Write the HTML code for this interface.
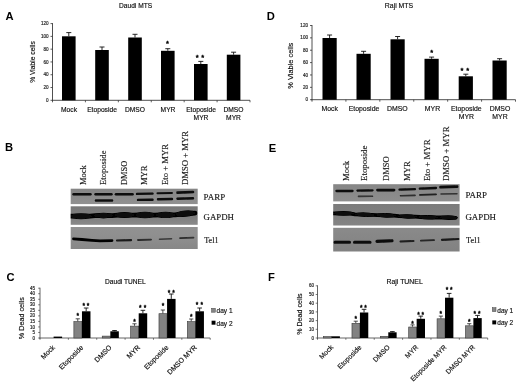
<!DOCTYPE html>
<html lang="en">
<head>
<meta charset="utf-8">
<title>Figure</title>
<style>
html,body{margin:0;padding:0;background:#fff;}
svg{display:block;}
text.s{font-family:"Liberation Sans", Arial, sans-serif;}
text.r{font-family:"Liberation Serif", "Times New Roman", serif;}
</style>
</head>
<body>
<svg width="520" height="385" viewBox="0 0 520 385">
<defs>
<filter id="bl" x="-5%" y="-5%" width="110%" height="110%"><feGaussianBlur stdDeviation="0.75"/></filter>
</defs>
<rect x="0" y="0" width="520" height="385" fill="#ffffff"/>
<text class="s" x="5.6" y="20" font-size="11.2" font-weight="bold" fill="#000">A</text>
<text class="s" x="135.6" y="7.9" font-size="6.6" text-anchor="middle" fill="#111" stroke="#111" stroke-width="0.16">Daudi MTS</text>
<line x1="52.5" y1="23.1" x2="52.5" y2="100.8" stroke="#3c3c3c" stroke-width="0.9"/>
<line x1="52.0" y1="100.3" x2="250" y2="100.3" stroke="#3c3c3c" stroke-width="0.9"/>
<line x1="50.5" y1="100.3" x2="52.5" y2="100.3" stroke="#333" stroke-width="0.8"/>
<text class="s" x="48.6" y="101.9" font-size="4.6" text-anchor="end" fill="#222" stroke="#222" stroke-width="0.16">0</text>
<line x1="50.5" y1="87.51666666666667" x2="52.5" y2="87.51666666666667" stroke="#333" stroke-width="0.8"/>
<text class="s" x="48.6" y="89.12" font-size="4.6" text-anchor="end" fill="#222" stroke="#222" stroke-width="0.16">20</text>
<line x1="50.5" y1="74.73333333333333" x2="52.5" y2="74.73333333333333" stroke="#333" stroke-width="0.8"/>
<text class="s" x="48.6" y="76.33" font-size="4.6" text-anchor="end" fill="#222" stroke="#222" stroke-width="0.16">40</text>
<line x1="50.5" y1="61.95" x2="52.5" y2="61.95" stroke="#333" stroke-width="0.8"/>
<text class="s" x="48.6" y="63.55" font-size="4.6" text-anchor="end" fill="#222" stroke="#222" stroke-width="0.16">60</text>
<line x1="50.5" y1="49.16666666666667" x2="52.5" y2="49.16666666666667" stroke="#333" stroke-width="0.8"/>
<text class="s" x="48.6" y="50.77" font-size="4.6" text-anchor="end" fill="#222" stroke="#222" stroke-width="0.16">80</text>
<line x1="50.5" y1="36.38333333333334" x2="52.5" y2="36.38333333333334" stroke="#333" stroke-width="0.8"/>
<text class="s" x="48.6" y="37.98" font-size="4.6" text-anchor="end" fill="#222" stroke="#222" stroke-width="0.16">100</text>
<line x1="50.5" y1="23.60000000000001" x2="52.5" y2="23.60000000000001" stroke="#333" stroke-width="0.8"/>
<text class="s" x="48.6" y="25.2" font-size="4.6" text-anchor="end" fill="#222" stroke="#222" stroke-width="0.16">120</text>
<line x1="52.5" y1="100.3" x2="52.5" y2="102.3" stroke="#333" stroke-width="0.8"/>
<line x1="85.41666666666666" y1="100.3" x2="85.41666666666666" y2="102.3" stroke="#333" stroke-width="0.8"/>
<line x1="118.33333333333333" y1="100.3" x2="118.33333333333333" y2="102.3" stroke="#333" stroke-width="0.8"/>
<line x1="151.25" y1="100.3" x2="151.25" y2="102.3" stroke="#333" stroke-width="0.8"/>
<line x1="184.16666666666666" y1="100.3" x2="184.16666666666666" y2="102.3" stroke="#333" stroke-width="0.8"/>
<line x1="217.08333333333331" y1="100.3" x2="217.08333333333331" y2="102.3" stroke="#333" stroke-width="0.8"/>
<line x1="250.0" y1="100.3" x2="250.0" y2="102.3" stroke="#333" stroke-width="0.8"/>
<rect x="62.00" y="36.30" width="13.60" height="64.00" fill="#000"/>
<line x1="68.8" y1="36.3" x2="68.8" y2="32.6" stroke="#111" stroke-width="0.9"/>
<line x1="66.3" y1="32.6" x2="71.3" y2="32.6" stroke="#111" stroke-width="0.9"/>
<rect x="95.20" y="50.00" width="13.60" height="50.30" fill="#000"/>
<line x1="102.0" y1="50" x2="102.0" y2="47" stroke="#111" stroke-width="0.9"/>
<line x1="99.5" y1="47" x2="104.5" y2="47" stroke="#111" stroke-width="0.9"/>
<rect x="128.20" y="37.50" width="13.60" height="62.80" fill="#000"/>
<line x1="135.0" y1="37.5" x2="135.0" y2="34.3" stroke="#111" stroke-width="0.9"/>
<line x1="132.5" y1="34.3" x2="137.5" y2="34.3" stroke="#111" stroke-width="0.9"/>
<rect x="161.00" y="50.80" width="13.60" height="49.50" fill="#000"/>
<line x1="167.8" y1="50.8" x2="167.8" y2="48.7" stroke="#111" stroke-width="0.9"/>
<line x1="165.3" y1="48.7" x2="170.3" y2="48.7" stroke="#111" stroke-width="0.9"/>
<rect x="194.00" y="64.00" width="13.60" height="36.30" fill="#000"/>
<line x1="200.8" y1="64" x2="200.8" y2="61.4" stroke="#111" stroke-width="0.9"/>
<line x1="198.3" y1="61.4" x2="203.3" y2="61.4" stroke="#111" stroke-width="0.9"/>
<rect x="226.80" y="54.70" width="13.60" height="45.60" fill="#000"/>
<line x1="233.60000000000002" y1="54.7" x2="233.60000000000002" y2="52.2" stroke="#111" stroke-width="0.9"/>
<line x1="231.10000000000002" y1="52.2" x2="236.10000000000002" y2="52.2" stroke="#111" stroke-width="0.9"/>
<text class="s" x="69" y="111.7" font-size="6.7" text-anchor="middle" fill="#111" stroke="#111" stroke-width="0.16">Mock</text>
<text class="s" x="102" y="111.7" font-size="6.7" text-anchor="middle" fill="#111" stroke="#111" stroke-width="0.16">Etoposide</text>
<text class="s" x="135" y="111.7" font-size="6.7" text-anchor="middle" fill="#111" stroke="#111" stroke-width="0.16">DMSO</text>
<text class="s" x="168" y="111.7" font-size="6.7" text-anchor="middle" fill="#111" stroke="#111" stroke-width="0.16">MYR</text>
<text class="s" x="201" y="111.7" font-size="6.7" text-anchor="middle" fill="#111" stroke="#111" stroke-width="0.16">Etoposide</text>
<text class="s" x="201" y="119.5" font-size="6.7" text-anchor="middle" fill="#111" stroke="#111" stroke-width="0.16">MYR</text>
<text class="s" x="233.5" y="111.7" font-size="6.7" text-anchor="middle" fill="#111" stroke="#111" stroke-width="0.16">DMSO</text>
<text class="s" x="233.5" y="119.5" font-size="6.7" text-anchor="middle" fill="#111" stroke="#111" stroke-width="0.16">MYR</text>
<text class="s" x="34.6" y="62" font-size="6.7" text-anchor="middle" transform="rotate(-90 34.6 62)" fill="#111" stroke="#111" stroke-width="0.16">% Viable cells</text>
<text class="s" x="167.5" y="45.88" font-size="7.5" text-anchor="middle" fill="#0a0a0a" stroke="#0a0a0a" stroke-width="0.42">*</text>
<text class="s" x="197.2" y="59.88" font-size="7.5" text-anchor="middle" fill="#0a0a0a" stroke="#0a0a0a" stroke-width="0.42">*</text>
<text class="s" x="202.6" y="59.88" font-size="7.5" text-anchor="middle" fill="#0a0a0a" stroke="#0a0a0a" stroke-width="0.42">*</text>
<text class="s" x="266.7" y="20" font-size="11.2" font-weight="bold" fill="#000">D</text>
<text class="s" x="399" y="7.7" font-size="6.9" text-anchor="middle" fill="#111" stroke="#111" stroke-width="0.16">Raji MTS</text>
<line x1="312" y1="25.0" x2="312" y2="100.2" stroke="#3c3c3c" stroke-width="0.9"/>
<line x1="311.5" y1="99.7" x2="515.5" y2="99.7" stroke="#3c3c3c" stroke-width="0.9"/>
<line x1="310" y1="99.7" x2="312" y2="99.7" stroke="#333" stroke-width="0.8"/>
<text class="s" x="308" y="101.3" font-size="4.6" text-anchor="end" fill="#222" stroke="#222" stroke-width="0.16">0</text>
<line x1="310" y1="87.33333333333334" x2="312" y2="87.33333333333334" stroke="#333" stroke-width="0.8"/>
<text class="s" x="308" y="88.93" font-size="4.6" text-anchor="end" fill="#222" stroke="#222" stroke-width="0.16">20</text>
<line x1="310" y1="74.96666666666667" x2="312" y2="74.96666666666667" stroke="#333" stroke-width="0.8"/>
<text class="s" x="308" y="76.57" font-size="4.6" text-anchor="end" fill="#222" stroke="#222" stroke-width="0.16">40</text>
<line x1="310" y1="62.6" x2="312" y2="62.6" stroke="#333" stroke-width="0.8"/>
<text class="s" x="308" y="64.2" font-size="4.6" text-anchor="end" fill="#222" stroke="#222" stroke-width="0.16">60</text>
<line x1="310" y1="50.233333333333334" x2="312" y2="50.233333333333334" stroke="#333" stroke-width="0.8"/>
<text class="s" x="308" y="51.83" font-size="4.6" text-anchor="end" fill="#222" stroke="#222" stroke-width="0.16">80</text>
<line x1="310" y1="37.86666666666667" x2="312" y2="37.86666666666667" stroke="#333" stroke-width="0.8"/>
<text class="s" x="308" y="39.47" font-size="4.6" text-anchor="end" fill="#222" stroke="#222" stroke-width="0.16">100</text>
<line x1="310" y1="25.5" x2="312" y2="25.5" stroke="#333" stroke-width="0.8"/>
<text class="s" x="308" y="27.1" font-size="4.6" text-anchor="end" fill="#222" stroke="#222" stroke-width="0.16">120</text>
<line x1="312.0" y1="99.7" x2="312.0" y2="101.7" stroke="#333" stroke-width="0.8"/>
<line x1="345.9166666666667" y1="99.7" x2="345.9166666666667" y2="101.7" stroke="#333" stroke-width="0.8"/>
<line x1="379.8333333333333" y1="99.7" x2="379.8333333333333" y2="101.7" stroke="#333" stroke-width="0.8"/>
<line x1="413.75" y1="99.7" x2="413.75" y2="101.7" stroke="#333" stroke-width="0.8"/>
<line x1="447.66666666666663" y1="99.7" x2="447.66666666666663" y2="101.7" stroke="#333" stroke-width="0.8"/>
<line x1="481.5833333333333" y1="99.7" x2="481.5833333333333" y2="101.7" stroke="#333" stroke-width="0.8"/>
<line x1="515.5" y1="99.7" x2="515.5" y2="101.7" stroke="#333" stroke-width="0.8"/>
<rect x="322.50" y="38.00" width="14.20" height="61.70" fill="#000"/>
<line x1="329.6" y1="38" x2="329.6" y2="35" stroke="#111" stroke-width="0.9"/>
<line x1="327.1" y1="35" x2="332.1" y2="35" stroke="#111" stroke-width="0.9"/>
<rect x="356.50" y="53.80" width="14.20" height="45.90" fill="#000"/>
<line x1="363.6" y1="53.8" x2="363.6" y2="51.3" stroke="#111" stroke-width="0.9"/>
<line x1="361.1" y1="51.3" x2="366.1" y2="51.3" stroke="#111" stroke-width="0.9"/>
<rect x="390.50" y="39.30" width="14.20" height="60.40" fill="#000"/>
<line x1="397.6" y1="39.3" x2="397.6" y2="36.5" stroke="#111" stroke-width="0.9"/>
<line x1="395.1" y1="36.5" x2="400.1" y2="36.5" stroke="#111" stroke-width="0.9"/>
<rect x="424.50" y="58.80" width="14.20" height="40.90" fill="#000"/>
<line x1="431.6" y1="58.8" x2="431.6" y2="57.1" stroke="#111" stroke-width="0.9"/>
<line x1="429.1" y1="57.1" x2="434.1" y2="57.1" stroke="#111" stroke-width="0.9"/>
<rect x="458.70" y="76.30" width="14.20" height="23.40" fill="#000"/>
<line x1="465.8" y1="76.3" x2="465.8" y2="74.2" stroke="#111" stroke-width="0.9"/>
<line x1="463.3" y1="74.2" x2="468.3" y2="74.2" stroke="#111" stroke-width="0.9"/>
<rect x="492.50" y="60.50" width="14.20" height="39.20" fill="#000"/>
<line x1="499.6" y1="60.5" x2="499.6" y2="58.7" stroke="#111" stroke-width="0.9"/>
<line x1="497.1" y1="58.7" x2="502.1" y2="58.7" stroke="#111" stroke-width="0.9"/>
<text class="s" x="329.7" y="111.10000000000001" font-size="6.9" text-anchor="middle" fill="#111" stroke="#111" stroke-width="0.16">Mock</text>
<text class="s" x="364" y="111.10000000000001" font-size="6.9" text-anchor="middle" fill="#111" stroke="#111" stroke-width="0.16">Etoposide</text>
<text class="s" x="397.3" y="111.10000000000001" font-size="6.9" text-anchor="middle" fill="#111" stroke="#111" stroke-width="0.16">DMSO</text>
<text class="s" x="432.5" y="111.10000000000001" font-size="6.9" text-anchor="middle" fill="#111" stroke="#111" stroke-width="0.16">MYR</text>
<text class="s" x="466.3" y="111.10000000000001" font-size="6.9" text-anchor="middle" fill="#111" stroke="#111" stroke-width="0.16">Etoposide</text>
<text class="s" x="466.3" y="118.9" font-size="6.9" text-anchor="middle" fill="#111" stroke="#111" stroke-width="0.16">MYR</text>
<text class="s" x="500" y="111.10000000000001" font-size="6.9" text-anchor="middle" fill="#111" stroke="#111" stroke-width="0.16">DMSO</text>
<text class="s" x="500" y="118.9" font-size="6.9" text-anchor="middle" fill="#111" stroke="#111" stroke-width="0.16">MYR</text>
<text class="s" x="292.8" y="65.7" font-size="7.4" text-anchor="middle" transform="rotate(-90 292.8 65.7)" fill="#111" stroke="#111" stroke-width="0.16">% Viable cells</text>
<text class="s" x="431.8" y="55.17" font-size="7.5" text-anchor="middle" fill="#0a0a0a" stroke="#0a0a0a" stroke-width="0.42">*</text>
<text class="s" x="462" y="72.67" font-size="7.5" text-anchor="middle" fill="#0a0a0a" stroke="#0a0a0a" stroke-width="0.42">*</text>
<text class="s" x="467.6" y="72.67" font-size="7.5" text-anchor="middle" fill="#0a0a0a" stroke="#0a0a0a" stroke-width="0.42">*</text>
<text class="s" x="4.9" y="150.8" font-size="11.2" font-weight="bold" fill="#000">B</text>
<text class="r" x="85.8" y="185.0" font-size="8.7" transform="rotate(-90 85.8 185.0)" textLength="19.9" lengthAdjust="spacingAndGlyphs" fill="#1a1a1a" stroke="#1a1a1a" stroke-width="0.16">Mock</text>
<text class="r" x="106.2" y="185.0" font-size="8.7" transform="rotate(-90 106.2 185.0)" textLength="34.5" lengthAdjust="spacingAndGlyphs" fill="#1a1a1a" stroke="#1a1a1a" stroke-width="0.16">Etoposide</text>
<text class="r" x="127" y="185.0" font-size="8.7" transform="rotate(-90 127 185.0)" textLength="24.2" lengthAdjust="spacingAndGlyphs" fill="#1a1a1a" stroke="#1a1a1a" stroke-width="0.16">DMSO</text>
<text class="r" x="147" y="185.0" font-size="8.7" transform="rotate(-90 147 185.0)" textLength="19.5" lengthAdjust="spacingAndGlyphs" fill="#1a1a1a" stroke="#1a1a1a" stroke-width="0.16">MYR</text>
<text class="r" x="168" y="185.0" font-size="8.7" transform="rotate(-90 168 185.0)" textLength="41" lengthAdjust="spacingAndGlyphs" fill="#1a1a1a" stroke="#1a1a1a" stroke-width="0.16">Eto + MYR</text>
<text class="r" x="188.3" y="185.0" font-size="8.7" transform="rotate(-90 188.3 185.0)" textLength="54" lengthAdjust="spacingAndGlyphs" fill="#1a1a1a" stroke="#1a1a1a" stroke-width="0.16">DMSO + MYR</text>
<linearGradient id="gB0" x1="0" y1="0" x2="0" y2="1"><stop offset="0" stop-color="#858585"/><stop offset="0.5" stop-color="#8b8b8b"/><stop offset="1" stop-color="#919191"/></linearGradient>
<rect x="70.70" y="188.70" width="127.00" height="15.40" fill="url(#gB0)"/>
<linearGradient id="gB1" x1="0" y1="0" x2="0" y2="1"><stop offset="0" stop-color="#787878"/><stop offset="0.5" stop-color="#7e7e7e"/><stop offset="1" stop-color="#898989"/></linearGradient>
<rect x="70.70" y="206.30" width="127.00" height="18.50" fill="url(#gB1)"/>
<linearGradient id="gB2" x1="0" y1="0" x2="0" y2="1"><stop offset="0" stop-color="#929292"/><stop offset="0.5" stop-color="#8e8e8e"/><stop offset="1" stop-color="#878787"/></linearGradient>
<rect x="70.70" y="227.00" width="127.00" height="22.00" fill="url(#gB2)"/>
<text class="r" x="203.6" y="200.0" font-size="8.8" textLength="21.5" lengthAdjust="spacingAndGlyphs" fill="#1a1a1a" stroke="#1a1a1a" stroke-width="0.16">PARP</text>
<text class="r" x="203.6" y="219.6" font-size="8.8" textLength="30.3" lengthAdjust="spacingAndGlyphs" fill="#1a1a1a" stroke="#1a1a1a" stroke-width="0.16">GAPDH</text>
<text class="r" x="204.2" y="243.2" font-size="8.8" textLength="14.3" lengthAdjust="spacingAndGlyphs" fill="#1a1a1a" stroke="#1a1a1a" stroke-width="0.16">Tel1</text>
<clipPath id="cpB">
<rect x="70.7" y="188.7" width="127.00" height="15.40"/>
<rect x="70.7" y="206.3" width="127.00" height="18.50"/>
<rect x="70.7" y="227.0" width="127.00" height="22.00"/>
</clipPath>
<g clip-path="url(#cpB)"><g filter="url(#bl)">
<line x1="73.5" y1="194.3" x2="90.5" y2="194.3" stroke="#0a0a0a" stroke-width="2.4" stroke-linecap="round" opacity="1"/>
<line x1="95.5" y1="194.3" x2="111.5" y2="194.3" stroke="#0a0a0a" stroke-width="2.4" stroke-linecap="round" opacity="1"/>
<line x1="116" y1="194.2" x2="132.5" y2="194.2" stroke="#0a0a0a" stroke-width="2.6" stroke-linecap="round" opacity="1"/>
<line x1="137" y1="193.9" x2="152.5" y2="193.6" stroke="#0a0a0a" stroke-width="2.4" stroke-linecap="round" opacity="1"/>
<line x1="157.5" y1="193.3" x2="172" y2="192.9" stroke="#0a0a0a" stroke-width="2.0" stroke-linecap="round" opacity="1"/>
<line x1="177.5" y1="192.6" x2="193" y2="192.0" stroke="#0a0a0a" stroke-width="2.6" stroke-linecap="round" opacity="1"/>
<line x1="96" y1="200.5" x2="112" y2="200.5" stroke="#0a0a0a" stroke-width="2.4" stroke-linecap="round" opacity="1"/>
<line x1="138" y1="199.9" x2="152.5" y2="199.7" stroke="#0a0a0a" stroke-width="2.4" stroke-linecap="round" opacity="1"/>
<line x1="158" y1="199.3" x2="172" y2="199.0" stroke="#0a0a0a" stroke-width="2.4" stroke-linecap="round" opacity="1"/>
<line x1="177.5" y1="198.8" x2="193" y2="198.3" stroke="#0a0a0a" stroke-width="2.4" stroke-linecap="round" opacity="1"/>
<path d="M70,216.2 L90,216.1 L95,215.7 L112,215.6 L118,215.2 L133,215.1 L140,215.0 L155,215.1 L160,214.8 L175,214.8 L182,214.0 L195,213.1" fill="none" stroke="#050505" stroke-width="4.8" stroke-linecap="round" stroke-linejoin="round" opacity="1"/>
<ellipse cx="81" cy="216.2" rx="11.5" ry="3.0" transform="rotate(0 81 216.2)" fill="#070707" opacity="1"/>
<ellipse cx="103.5" cy="215.6" rx="10.5" ry="2.8" transform="rotate(0 103.5 215.6)" fill="#070707" opacity="1"/>
<ellipse cx="124.5" cy="215.0" rx="10.5" ry="2.9" transform="rotate(0 124.5 215.0)" fill="#070707" opacity="1"/>
<ellipse cx="145" cy="215.0" rx="10.5" ry="3.3" transform="rotate(0 145 215.0)" fill="#070707" opacity="1"/>
<ellipse cx="165.5" cy="214.9" rx="10" ry="3.2" transform="rotate(0 165.5 214.9)" fill="#070707" opacity="1"/>
<ellipse cx="185.5" cy="213.6" rx="10.5" ry="3.2" transform="rotate(-5 185.5 213.6)" fill="#070707" opacity="1"/>
<path d="M73.5,238.9 L82,239.5 L92,240.3 L100,240.8 L112,240.6" fill="none" stroke="#050505" stroke-width="2.8" stroke-linecap="round" stroke-linejoin="round" opacity="1"/>
<line x1="117" y1="240.5" x2="131" y2="240.2" stroke="#0a0a0a" stroke-width="2.2" stroke-linecap="round" opacity="0.9"/>
<line x1="138" y1="240.0" x2="151" y2="239.6" stroke="#0a0a0a" stroke-width="1.8" stroke-linecap="round" opacity="0.75"/>
<line x1="159.5" y1="239.3" x2="171.5" y2="238.8" stroke="#0a0a0a" stroke-width="1.6" stroke-linecap="round" opacity="0.6"/>
<line x1="180" y1="238.2" x2="193.5" y2="237.6" stroke="#0a0a0a" stroke-width="1.7" stroke-linecap="round" opacity="0.7"/>
</g></g>
<text class="s" x="268.8" y="151.5" font-size="11.2" font-weight="bold" fill="#000">E</text>
<text class="r" x="348.6" y="181.0" font-size="8.7" transform="rotate(-90 348.6 181.0)" textLength="20.2" lengthAdjust="spacingAndGlyphs" fill="#1a1a1a" stroke="#1a1a1a" stroke-width="0.16">Mock</text>
<text class="r" x="366.8" y="181.0" font-size="8.7" transform="rotate(-90 366.8 181.0)" textLength="35.5" lengthAdjust="spacingAndGlyphs" fill="#1a1a1a" stroke="#1a1a1a" stroke-width="0.16">Etoposide</text>
<text class="r" x="389.4" y="181.0" font-size="8.7" transform="rotate(-90 389.4 181.0)" textLength="24.6" lengthAdjust="spacingAndGlyphs" fill="#1a1a1a" stroke="#1a1a1a" stroke-width="0.16">DMSO</text>
<text class="r" x="409.9" y="181.0" font-size="8.7" transform="rotate(-90 409.9 181.0)" textLength="19.9" lengthAdjust="spacingAndGlyphs" fill="#1a1a1a" stroke="#1a1a1a" stroke-width="0.16">MYR</text>
<text class="r" x="429.6" y="181.0" font-size="8.7" transform="rotate(-90 429.6 181.0)" textLength="41.5" lengthAdjust="spacingAndGlyphs" fill="#1a1a1a" stroke="#1a1a1a" stroke-width="0.16">Eto + MYR</text>
<text class="r" x="449.4" y="181.0" font-size="8.7" transform="rotate(-90 449.4 181.0)" textLength="54.5" lengthAdjust="spacingAndGlyphs" fill="#1a1a1a" stroke="#1a1a1a" stroke-width="0.16">DMSO + MYR</text>
<linearGradient id="gE0" x1="0" y1="0" x2="0" y2="1"><stop offset="0" stop-color="#868686"/><stop offset="0.5" stop-color="#8a8a8a"/><stop offset="1" stop-color="#8e8e8e"/></linearGradient>
<rect x="333.20" y="184.20" width="126.40" height="17.20" fill="url(#gE0)"/>
<linearGradient id="gE1" x1="0" y1="0" x2="0" y2="1"><stop offset="0" stop-color="#7c7c7c"/><stop offset="0.5" stop-color="#7f7f7f"/><stop offset="1" stop-color="#848484"/></linearGradient>
<rect x="333.20" y="204.00" width="126.40" height="21.50" fill="url(#gE1)"/>
<linearGradient id="gE2" x1="0" y1="0" x2="0" y2="1"><stop offset="0" stop-color="#8a8a8a"/><stop offset="0.5" stop-color="#868686"/><stop offset="1" stop-color="#818181"/></linearGradient>
<rect x="333.20" y="227.80" width="126.40" height="23.70" fill="url(#gE2)"/>
<text class="r" x="465.4" y="198.3" font-size="8.8" textLength="21.5" lengthAdjust="spacingAndGlyphs" fill="#1a1a1a" stroke="#1a1a1a" stroke-width="0.16">PARP</text>
<text class="r" x="465.4" y="220.4" font-size="8.8" textLength="30.6" lengthAdjust="spacingAndGlyphs" fill="#1a1a1a" stroke="#1a1a1a" stroke-width="0.16">GAPDH</text>
<text class="r" x="466.0" y="243.4" font-size="8.8" textLength="14.6" lengthAdjust="spacingAndGlyphs" fill="#1a1a1a" stroke="#1a1a1a" stroke-width="0.16">Tel1</text>
<clipPath id="cpE">
<rect x="333.2" y="184.2" width="126.40" height="17.20"/>
<rect x="333.2" y="204.0" width="126.40" height="21.50"/>
<rect x="333.2" y="227.8" width="126.40" height="23.70"/>
</clipPath>
<g clip-path="url(#cpE)"><g filter="url(#bl)">
<line x1="336.5" y1="191.0" x2="352.5" y2="191.0" stroke="#0a0a0a" stroke-width="2.3" stroke-linecap="round" opacity="1"/>
<line x1="357.5" y1="190.6" x2="372.5" y2="190.3" stroke="#0a0a0a" stroke-width="2.3" stroke-linecap="round" opacity="1"/>
<line x1="377.5" y1="190.1" x2="394" y2="190.1" stroke="#0a0a0a" stroke-width="2.8" stroke-linecap="round" opacity="1"/>
<line x1="399.5" y1="189.6" x2="415" y2="189.2" stroke="#0a0a0a" stroke-width="2.2" stroke-linecap="round" opacity="1"/>
<line x1="419.8" y1="188.6" x2="436" y2="188.0" stroke="#0a0a0a" stroke-width="2.3" stroke-linecap="round" opacity="1"/>
<line x1="440.5" y1="187.2" x2="457" y2="186.7" stroke="#0a0a0a" stroke-width="2.8" stroke-linecap="round" opacity="1"/>
<line x1="358.5" y1="196.4" x2="372.5" y2="196.3" stroke="#0a0a0a" stroke-width="1.6" stroke-linecap="round" opacity="0.7"/>
<line x1="400.5" y1="195.8" x2="415" y2="195.4" stroke="#0a0a0a" stroke-width="1.6" stroke-linecap="round" opacity="0.75"/>
<line x1="420" y1="194.9" x2="436" y2="194.4" stroke="#0a0a0a" stroke-width="1.8" stroke-linecap="round" opacity="0.85"/>
<line x1="441" y1="194.1" x2="457" y2="193.7" stroke="#0a0a0a" stroke-width="1.5" stroke-linecap="round" opacity="0.65"/>
<path d="M332,213.3 L350,213.6 L355,214.4 L372,214.9 L377,215.1 L394,215.6 L399,216.2 L415,216.7 L420,217.0 L436,217.5 L441,217.4 L455.5,217.8" fill="none" stroke="#050505" stroke-width="3.8" stroke-linecap="round" stroke-linejoin="round" opacity="1"/>
<ellipse cx="343.5" cy="213.4" rx="11.5" ry="2.3" transform="rotate(0 343.5 213.4)" fill="#070707" opacity="1"/>
<ellipse cx="365" cy="214.7" rx="10.5" ry="2.3" transform="rotate(2 365 214.7)" fill="#070707" opacity="1"/>
<ellipse cx="386" cy="215.4" rx="10.5" ry="2.3" transform="rotate(2 386 215.4)" fill="#070707" opacity="1"/>
<ellipse cx="407.5" cy="216.5" rx="10.5" ry="2.2" transform="rotate(2 407.5 216.5)" fill="#070707" opacity="1"/>
<ellipse cx="428" cy="217.2" rx="10.5" ry="2.2" transform="rotate(1 428 217.2)" fill="#070707" opacity="1"/>
<ellipse cx="448.5" cy="217.6" rx="9.5" ry="2.3" transform="rotate(1 448.5 217.6)" fill="#070707" opacity="1"/>
<line x1="335" y1="242.3" x2="349.5" y2="242.2" stroke="#0a0a0a" stroke-width="3.1" stroke-linecap="round" opacity="1"/>
<line x1="354.5" y1="242.3" x2="370" y2="242.2" stroke="#0a0a0a" stroke-width="3.1" stroke-linecap="round" opacity="1"/>
<line x1="377" y1="241.4" x2="392" y2="240.8" stroke="#0a0a0a" stroke-width="3.1" stroke-linecap="round" opacity="1"/>
<line x1="400.5" y1="241.5" x2="413.5" y2="241.1" stroke="#0a0a0a" stroke-width="2.0" stroke-linecap="round" opacity="0.85"/>
<line x1="421" y1="240.6" x2="434" y2="240.1" stroke="#0a0a0a" stroke-width="1.9" stroke-linecap="round" opacity="0.8"/>
<line x1="442" y1="239.8" x2="458.5" y2="239.0" stroke="#0a0a0a" stroke-width="2.2" stroke-linecap="round" opacity="0.9"/>
</g></g>
<text class="s" x="6.4" y="281.2" font-size="11.2" font-weight="bold" fill="#000">C</text>
<text class="s" x="125.4" y="283.7" font-size="6.6" text-anchor="middle" fill="#111" stroke="#111" stroke-width="0.16">Daudi TUNEL</text>
<line x1="40" y1="287.7" x2="40" y2="338.5" stroke="#555" stroke-width="0.9"/>
<line x1="39.5" y1="338.0" x2="210.2" y2="338.0" stroke="#555" stroke-width="0.9"/>
<line x1="38.2" y1="338.0" x2="40" y2="338.0" stroke="#444" stroke-width="0.7"/>
<text class="s" x="35.0" y="339.6" font-size="4.5" text-anchor="end" fill="#222" stroke="#222" stroke-width="0.16">0</text>
<line x1="38.2" y1="332.46666666666664" x2="40" y2="332.46666666666664" stroke="#444" stroke-width="0.7"/>
<text class="s" x="35.0" y="334.07" font-size="4.5" text-anchor="end" fill="#222" stroke="#222" stroke-width="0.16">5</text>
<line x1="38.2" y1="326.93333333333334" x2="40" y2="326.93333333333334" stroke="#444" stroke-width="0.7"/>
<text class="s" x="35.0" y="328.53" font-size="4.5" text-anchor="end" fill="#222" stroke="#222" stroke-width="0.16">10</text>
<line x1="38.2" y1="321.4" x2="40" y2="321.4" stroke="#444" stroke-width="0.7"/>
<text class="s" x="35.0" y="323.0" font-size="4.5" text-anchor="end" fill="#222" stroke="#222" stroke-width="0.16">15</text>
<line x1="38.2" y1="315.8666666666667" x2="40" y2="315.8666666666667" stroke="#444" stroke-width="0.7"/>
<text class="s" x="35.0" y="317.47" font-size="4.5" text-anchor="end" fill="#222" stroke="#222" stroke-width="0.16">20</text>
<line x1="38.2" y1="310.3333333333333" x2="40" y2="310.3333333333333" stroke="#444" stroke-width="0.7"/>
<text class="s" x="35.0" y="311.93" font-size="4.5" text-anchor="end" fill="#222" stroke="#222" stroke-width="0.16">25</text>
<line x1="38.2" y1="304.8" x2="40" y2="304.8" stroke="#444" stroke-width="0.7"/>
<text class="s" x="35.0" y="306.4" font-size="4.5" text-anchor="end" fill="#222" stroke="#222" stroke-width="0.16">30</text>
<line x1="38.2" y1="299.26666666666665" x2="40" y2="299.26666666666665" stroke="#444" stroke-width="0.7"/>
<text class="s" x="35.0" y="300.87" font-size="4.5" text-anchor="end" fill="#222" stroke="#222" stroke-width="0.16">35</text>
<line x1="38.2" y1="293.73333333333335" x2="40" y2="293.73333333333335" stroke="#444" stroke-width="0.7"/>
<text class="s" x="35.0" y="295.33" font-size="4.5" text-anchor="end" fill="#222" stroke="#222" stroke-width="0.16">40</text>
<line x1="38.2" y1="288.2" x2="40" y2="288.2" stroke="#444" stroke-width="0.7"/>
<text class="s" x="35.0" y="289.8" font-size="4.5" text-anchor="end" fill="#222" stroke="#222" stroke-width="0.16">45</text>
<line x1="40.0" y1="338.0" x2="40.0" y2="339.8" stroke="#444" stroke-width="0.7"/>
<line x1="68.36666666666666" y1="338.0" x2="68.36666666666666" y2="339.8" stroke="#444" stroke-width="0.7"/>
<line x1="96.73333333333332" y1="338.0" x2="96.73333333333332" y2="339.8" stroke="#444" stroke-width="0.7"/>
<line x1="125.1" y1="338.0" x2="125.1" y2="339.8" stroke="#444" stroke-width="0.7"/>
<line x1="153.46666666666664" y1="338.0" x2="153.46666666666664" y2="339.8" stroke="#444" stroke-width="0.7"/>
<line x1="181.83333333333331" y1="338.0" x2="181.83333333333331" y2="339.8" stroke="#444" stroke-width="0.7"/>
<line x1="210.2" y1="338.0" x2="210.2" y2="339.8" stroke="#444" stroke-width="0.7"/>
<rect x="45.50" y="337.50" width="8.10" height="0.50" fill="#b0b0b0"/>
<rect x="53.60" y="336.60" width="8.50" height="1.40" fill="#000"/>
<text class="s" x="55.48" y="347.9" font-size="7.0" text-anchor="end" transform="rotate(-45 55.48 347.9)" fill="#111" stroke="#111" stroke-width="0.16">Mock</text>
<rect x="73.87" y="321.60" width="8.10" height="16.40" fill="#828282" stroke="#3a3a3a" stroke-width="0.6"/>
<rect x="81.97" y="311.30" width="8.50" height="26.70" fill="#000"/>
<line x1="77.76666666666667" y1="321.3" x2="77.76666666666667" y2="318.8" stroke="#222" stroke-width="0.8"/>
<line x1="75.66666666666667" y1="318.8" x2="79.86666666666666" y2="318.8" stroke="#222" stroke-width="0.8"/>
<line x1="86.16666666666666" y1="311.3" x2="86.16666666666666" y2="308.0" stroke="#111" stroke-width="0.9"/>
<line x1="83.86666666666666" y1="308.0" x2="88.46666666666665" y2="308.0" stroke="#111" stroke-width="0.9"/>
<text class="s" x="83.85" y="347.9" font-size="7.0" text-anchor="end" transform="rotate(-45 83.85 347.9)" fill="#111" stroke="#111" stroke-width="0.16">Etoposide</text>
<rect x="102.23" y="336.10" width="8.10" height="1.90" fill="#828282" stroke="#3a3a3a" stroke-width="0.6"/>
<rect x="110.33" y="331.30" width="8.50" height="6.70" fill="#000"/>
<line x1="114.53333333333333" y1="331.3" x2="114.53333333333333" y2="330.5" stroke="#111" stroke-width="0.9"/>
<line x1="112.23333333333333" y1="330.5" x2="116.83333333333333" y2="330.5" stroke="#111" stroke-width="0.9"/>
<text class="s" x="112.22" y="347.9" font-size="7.0" text-anchor="end" transform="rotate(-45 112.22 347.9)" fill="#111" stroke="#111" stroke-width="0.16">DMSO</text>
<rect x="130.60" y="326.10" width="8.10" height="11.90" fill="#828282" stroke="#3a3a3a" stroke-width="0.6"/>
<rect x="138.70" y="313.30" width="8.50" height="24.70" fill="#000"/>
<line x1="134.49999999999997" y1="325.8" x2="134.49999999999997" y2="323.8" stroke="#222" stroke-width="0.8"/>
<line x1="132.39999999999998" y1="323.8" x2="136.59999999999997" y2="323.8" stroke="#222" stroke-width="0.8"/>
<line x1="142.89999999999998" y1="313.3" x2="142.89999999999998" y2="310.3" stroke="#111" stroke-width="0.9"/>
<line x1="140.59999999999997" y1="310.3" x2="145.2" y2="310.3" stroke="#111" stroke-width="0.9"/>
<text class="s" x="140.58" y="347.9" font-size="7.0" text-anchor="end" transform="rotate(-45 140.58 347.9)" fill="#111" stroke="#111" stroke-width="0.16">MYR</text>
<rect x="158.97" y="313.70" width="8.10" height="24.30" fill="#828282" stroke="#3a3a3a" stroke-width="0.6"/>
<rect x="167.07" y="298.90" width="8.50" height="39.10" fill="#000"/>
<line x1="162.86666666666662" y1="313.4" x2="162.86666666666662" y2="310.0" stroke="#222" stroke-width="0.8"/>
<line x1="160.76666666666662" y1="310.0" x2="164.9666666666666" y2="310.0" stroke="#222" stroke-width="0.8"/>
<line x1="171.26666666666662" y1="298.9" x2="171.26666666666662" y2="294.0" stroke="#111" stroke-width="0.9"/>
<line x1="168.9666666666666" y1="294.0" x2="173.56666666666663" y2="294.0" stroke="#111" stroke-width="0.9"/>
<text class="s" x="168.95" y="347.9" font-size="7.0" text-anchor="end" transform="rotate(-45 168.95 347.9)" fill="#111" stroke="#111" stroke-width="0.16">Etoposide</text>
<rect x="187.33" y="321.60" width="8.10" height="16.40" fill="#828282" stroke="#3a3a3a" stroke-width="0.6"/>
<rect x="195.43" y="311.30" width="8.50" height="26.70" fill="#000"/>
<line x1="191.2333333333333" y1="321.3" x2="191.2333333333333" y2="319.0" stroke="#222" stroke-width="0.8"/>
<line x1="189.1333333333333" y1="319.0" x2="193.3333333333333" y2="319.0" stroke="#222" stroke-width="0.8"/>
<line x1="199.6333333333333" y1="311.3" x2="199.6333333333333" y2="308.0" stroke="#111" stroke-width="0.9"/>
<line x1="197.3333333333333" y1="308.0" x2="201.9333333333333" y2="308.0" stroke="#111" stroke-width="0.9"/>
<text class="s" x="197.32" y="347.9" font-size="7.0" text-anchor="end" transform="rotate(-45 197.32 347.9)" fill="#111" stroke="#111" stroke-width="0.16">DMSO MYR</text>
<text class="s" x="23.9" y="318.2" font-size="7.2" text-anchor="middle" transform="rotate(-90 23.9 318.2)" fill="#111" stroke="#111" stroke-width="0.16">% Dead cells</text>
<rect x="211.60" y="308.30" width="3.70" height="3.90" fill="#868686" stroke="#444" stroke-width="0.5"/>
<text class="s" x="216.6" y="313.1" font-size="6.5" fill="#111" stroke="#111" stroke-width="0.16">day 1</text>
<rect x="211.60" y="320.70" width="3.90" height="4.00" fill="#000"/>
<text class="s" x="216.6" y="325.59999999999997" font-size="6.5" fill="#111" stroke="#111" stroke-width="0.16">day 2</text>
<text class="s" x="77.8" y="318.27" font-size="6.5" text-anchor="middle" fill="#0a0a0a" stroke="#0a0a0a" stroke-width="0.42">*</text>
<text class="s" x="83.8" y="307.57" font-size="6.5" text-anchor="middle" fill="#0a0a0a" stroke="#0a0a0a" stroke-width="0.42">*</text>
<text class="s" x="88.1" y="307.57" font-size="6.5" text-anchor="middle" fill="#0a0a0a" stroke="#0a0a0a" stroke-width="0.42">*</text>
<text class="s" x="134.6" y="323.77" font-size="6.5" text-anchor="middle" fill="#0a0a0a" stroke="#0a0a0a" stroke-width="0.42">*</text>
<text class="s" x="140.2" y="309.57" font-size="6.5" text-anchor="middle" fill="#0a0a0a" stroke="#0a0a0a" stroke-width="0.42">*</text>
<text class="s" x="145" y="309.57" font-size="6.5" text-anchor="middle" fill="#0a0a0a" stroke="#0a0a0a" stroke-width="0.42">*</text>
<text class="s" x="163.1" y="308.47" font-size="6.5" text-anchor="middle" fill="#0a0a0a" stroke="#0a0a0a" stroke-width="0.42">*</text>
<text class="s" x="169" y="294.67" font-size="6.5" text-anchor="middle" fill="#0a0a0a" stroke="#0a0a0a" stroke-width="0.42">*</text>
<text class="s" x="173.5" y="294.67" font-size="6.5" text-anchor="middle" fill="#0a0a0a" stroke="#0a0a0a" stroke-width="0.42">*</text>
<text class="s" x="191.3" y="318.77" font-size="6.5" text-anchor="middle" fill="#0a0a0a" stroke="#0a0a0a" stroke-width="0.42">*</text>
<text class="s" x="197.1" y="307.07" font-size="6.5" text-anchor="middle" fill="#0a0a0a" stroke="#0a0a0a" stroke-width="0.42">*</text>
<text class="s" x="201.8" y="307.07" font-size="6.5" text-anchor="middle" fill="#0a0a0a" stroke="#0a0a0a" stroke-width="0.42">*</text>
<text class="s" x="268.0" y="280.5" font-size="11.2" font-weight="bold" fill="#000">F</text>
<text class="s" x="404.6" y="283.7" font-size="6.9" text-anchor="middle" fill="#111" stroke="#111" stroke-width="0.16">Raji TUNEL</text>
<line x1="317.5" y1="285.3" x2="317.5" y2="338.5" stroke="#555" stroke-width="0.9"/>
<line x1="317.0" y1="338.0" x2="487.7" y2="338.0" stroke="#555" stroke-width="0.9"/>
<line x1="315.7" y1="338.0" x2="317.5" y2="338.0" stroke="#444" stroke-width="0.7"/>
<text class="s" x="314.0" y="339.6" font-size="4.5" text-anchor="end" fill="#222" stroke="#222" stroke-width="0.16">0</text>
<line x1="315.7" y1="329.3" x2="317.5" y2="329.3" stroke="#444" stroke-width="0.7"/>
<text class="s" x="314.0" y="330.9" font-size="4.5" text-anchor="end" fill="#222" stroke="#222" stroke-width="0.16">10</text>
<line x1="315.7" y1="320.6" x2="317.5" y2="320.6" stroke="#444" stroke-width="0.7"/>
<text class="s" x="314.0" y="322.2" font-size="4.5" text-anchor="end" fill="#222" stroke="#222" stroke-width="0.16">20</text>
<line x1="315.7" y1="311.9" x2="317.5" y2="311.9" stroke="#444" stroke-width="0.7"/>
<text class="s" x="314.0" y="313.5" font-size="4.5" text-anchor="end" fill="#222" stroke="#222" stroke-width="0.16">30</text>
<line x1="315.7" y1="303.2" x2="317.5" y2="303.2" stroke="#444" stroke-width="0.7"/>
<text class="s" x="314.0" y="304.8" font-size="4.5" text-anchor="end" fill="#222" stroke="#222" stroke-width="0.16">40</text>
<line x1="315.7" y1="294.5" x2="317.5" y2="294.5" stroke="#444" stroke-width="0.7"/>
<text class="s" x="314.0" y="296.1" font-size="4.5" text-anchor="end" fill="#222" stroke="#222" stroke-width="0.16">50</text>
<line x1="315.7" y1="285.8" x2="317.5" y2="285.8" stroke="#444" stroke-width="0.7"/>
<text class="s" x="314.0" y="287.4" font-size="4.5" text-anchor="end" fill="#222" stroke="#222" stroke-width="0.16">60</text>
<line x1="317.5" y1="338.0" x2="317.5" y2="339.8" stroke="#444" stroke-width="0.7"/>
<line x1="345.8666666666667" y1="338.0" x2="345.8666666666667" y2="339.8" stroke="#444" stroke-width="0.7"/>
<line x1="374.23333333333335" y1="338.0" x2="374.23333333333335" y2="339.8" stroke="#444" stroke-width="0.7"/>
<line x1="402.6" y1="338.0" x2="402.6" y2="339.8" stroke="#444" stroke-width="0.7"/>
<line x1="430.96666666666664" y1="338.0" x2="430.96666666666664" y2="339.8" stroke="#444" stroke-width="0.7"/>
<line x1="459.3333333333333" y1="338.0" x2="459.3333333333333" y2="339.8" stroke="#444" stroke-width="0.7"/>
<line x1="487.7" y1="338.0" x2="487.7" y2="339.8" stroke="#444" stroke-width="0.7"/>
<rect x="323.60" y="336.60" width="7.95" height="1.40" fill="#828282" stroke="#3a3a3a" stroke-width="0.6"/>
<rect x="331.55" y="336.30" width="8.35" height="1.70" fill="#000"/>
<text class="s" x="333.58" y="347.8" font-size="6.9" text-anchor="end" transform="rotate(-45 333.58 347.8)" fill="#111" stroke="#111" stroke-width="0.16">Mock</text>
<rect x="351.97" y="323.30" width="7.95" height="14.70" fill="#828282" stroke="#3a3a3a" stroke-width="0.6"/>
<rect x="359.92" y="312.50" width="8.35" height="25.50" fill="#000"/>
<line x1="355.7916666666667" y1="323.0" x2="355.7916666666667" y2="321.2" stroke="#222" stroke-width="0.8"/>
<line x1="353.69166666666666" y1="321.2" x2="357.8916666666667" y2="321.2" stroke="#222" stroke-width="0.8"/>
<line x1="364.0416666666667" y1="312.5" x2="364.0416666666667" y2="309.3" stroke="#111" stroke-width="0.9"/>
<line x1="361.7416666666667" y1="309.3" x2="366.3416666666667" y2="309.3" stroke="#111" stroke-width="0.9"/>
<text class="s" x="361.95" y="347.8" font-size="6.9" text-anchor="end" transform="rotate(-45 361.95 347.8)" fill="#111" stroke="#111" stroke-width="0.16">Etoposide</text>
<rect x="380.33" y="336.30" width="7.95" height="1.70" fill="#828282" stroke="#3a3a3a" stroke-width="0.6"/>
<rect x="388.28" y="332.30" width="8.35" height="5.70" fill="#000"/>
<line x1="392.40833333333336" y1="332.3" x2="392.40833333333336" y2="331.6" stroke="#111" stroke-width="0.9"/>
<line x1="390.10833333333335" y1="331.6" x2="394.70833333333337" y2="331.6" stroke="#111" stroke-width="0.9"/>
<text class="s" x="390.32" y="347.8" font-size="6.9" text-anchor="end" transform="rotate(-45 390.32 347.8)" fill="#111" stroke="#111" stroke-width="0.16">DMSO</text>
<rect x="408.70" y="327.00" width="7.95" height="11.00" fill="#828282" stroke="#3a3a3a" stroke-width="0.6"/>
<rect x="416.65" y="318.80" width="8.35" height="19.20" fill="#000"/>
<line x1="412.52500000000003" y1="326.7" x2="412.52500000000003" y2="324.9" stroke="#222" stroke-width="0.8"/>
<line x1="410.425" y1="324.9" x2="414.62500000000006" y2="324.9" stroke="#222" stroke-width="0.8"/>
<line x1="420.77500000000003" y1="318.8" x2="420.77500000000003" y2="316.1" stroke="#111" stroke-width="0.9"/>
<line x1="418.475" y1="316.1" x2="423.07500000000005" y2="316.1" stroke="#111" stroke-width="0.9"/>
<text class="s" x="418.68" y="347.8" font-size="6.9" text-anchor="end" transform="rotate(-45 418.68 347.8)" fill="#111" stroke="#111" stroke-width="0.16">MYR</text>
<rect x="437.07" y="318.80" width="7.95" height="19.20" fill="#828282" stroke="#3a3a3a" stroke-width="0.6"/>
<rect x="445.02" y="297.70" width="8.35" height="40.30" fill="#000"/>
<line x1="440.89166666666665" y1="318.5" x2="440.89166666666665" y2="316.1" stroke="#222" stroke-width="0.8"/>
<line x1="438.79166666666663" y1="316.1" x2="442.9916666666667" y2="316.1" stroke="#222" stroke-width="0.8"/>
<line x1="449.14166666666665" y1="297.7" x2="449.14166666666665" y2="293.4" stroke="#111" stroke-width="0.9"/>
<line x1="446.84166666666664" y1="293.4" x2="451.44166666666666" y2="293.4" stroke="#111" stroke-width="0.9"/>
<text class="s" x="447.05" y="347.8" font-size="6.9" text-anchor="end" transform="rotate(-45 447.05 347.8)" fill="#111" stroke="#111" stroke-width="0.16">Etoposide MYR</text>
<rect x="465.43" y="325.80" width="7.95" height="12.20" fill="#828282" stroke="#3a3a3a" stroke-width="0.6"/>
<rect x="473.38" y="318.10" width="8.35" height="19.90" fill="#000"/>
<line x1="469.2583333333333" y1="325.5" x2="469.2583333333333" y2="323.7" stroke="#222" stroke-width="0.8"/>
<line x1="467.1583333333333" y1="323.7" x2="471.35833333333335" y2="323.7" stroke="#222" stroke-width="0.8"/>
<line x1="477.5083333333333" y1="318.1" x2="477.5083333333333" y2="315.4" stroke="#111" stroke-width="0.9"/>
<line x1="475.2083333333333" y1="315.4" x2="479.80833333333334" y2="315.4" stroke="#111" stroke-width="0.9"/>
<text class="s" x="475.42" y="347.8" font-size="6.9" text-anchor="end" transform="rotate(-45 475.42 347.8)" fill="#111" stroke="#111" stroke-width="0.16">DMSO MYR</text>
<text class="s" x="301.9" y="314.1" font-size="7.1" text-anchor="middle" transform="rotate(-90 301.9 314.1)" fill="#111" stroke="#111" stroke-width="0.16">% Dead cells</text>
<rect x="492.30" y="307.70" width="3.70" height="3.90" fill="#868686" stroke="#444" stroke-width="0.5"/>
<text class="s" x="497.3" y="312.5" font-size="6.5" fill="#111" stroke="#111" stroke-width="0.16">day 1</text>
<rect x="492.30" y="320.40" width="3.90" height="4.00" fill="#000"/>
<text class="s" x="497.3" y="325.29999999999995" font-size="6.5" fill="#111" stroke="#111" stroke-width="0.16">day 2</text>
<text class="s" x="355.8" y="321.27" font-size="6.5" text-anchor="middle" fill="#0a0a0a" stroke="#0a0a0a" stroke-width="0.42">*</text>
<text class="s" x="361.3" y="310.07" font-size="6.5" text-anchor="middle" fill="#0a0a0a" stroke="#0a0a0a" stroke-width="0.42">*</text>
<text class="s" x="365.6" y="310.07" font-size="6.5" text-anchor="middle" fill="#0a0a0a" stroke="#0a0a0a" stroke-width="0.42">*</text>
<text class="s" x="412.6" y="325.87" font-size="6.5" text-anchor="middle" fill="#0a0a0a" stroke="#0a0a0a" stroke-width="0.42">*</text>
<text class="s" x="418.4" y="316.67" font-size="6.5" text-anchor="middle" fill="#0a0a0a" stroke="#0a0a0a" stroke-width="0.42">*</text>
<text class="s" x="422.7" y="316.67" font-size="6.5" text-anchor="middle" fill="#0a0a0a" stroke="#0a0a0a" stroke-width="0.42">*</text>
<text class="s" x="440.8" y="315.97" font-size="6.5" text-anchor="middle" fill="#0a0a0a" stroke="#0a0a0a" stroke-width="0.42">*</text>
<text class="s" x="446.9" y="291.67" font-size="6.5" text-anchor="middle" fill="#0a0a0a" stroke="#0a0a0a" stroke-width="0.42">*</text>
<text class="s" x="451.3" y="291.67" font-size="6.5" text-anchor="middle" fill="#0a0a0a" stroke="#0a0a0a" stroke-width="0.42">*</text>
<text class="s" x="469.2" y="324.47" font-size="6.5" text-anchor="middle" fill="#0a0a0a" stroke="#0a0a0a" stroke-width="0.42">*</text>
<text class="s" x="474.8" y="315.67" font-size="6.5" text-anchor="middle" fill="#0a0a0a" stroke="#0a0a0a" stroke-width="0.42">*</text>
<text class="s" x="479.3" y="315.67" font-size="6.5" text-anchor="middle" fill="#0a0a0a" stroke="#0a0a0a" stroke-width="0.42">*</text>
</svg>
</body>
</html>
